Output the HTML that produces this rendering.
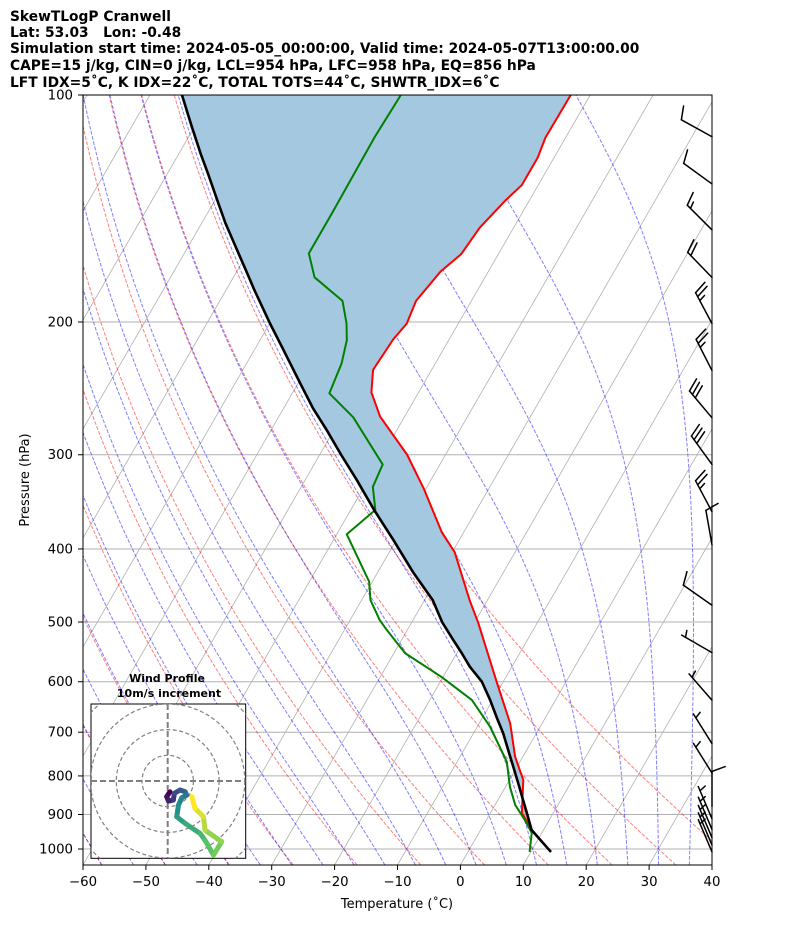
<!DOCTYPE html>
<html><head><meta charset="utf-8"><style>
html,body{margin:0;padding:0;background:#fff;}
svg{display:block;font-family:"DejaVu Sans","Liberation Sans",sans-serif;}
</style></head><body>
<svg id="chart" width="794" height="937" viewBox="0 0 794 937" xmlns="http://www.w3.org/2000/svg">
<defs>
<clipPath id="plotclip"><rect x="83" y="95" width="629" height="770"/></clipPath>
<clipPath id="hodoclip"><rect x="91" y="704" width="154.7" height="154.3"/></clipPath>
</defs>
<g font-weight="bold" font-size="13.8" fill="#000">
<text x="10" y="21">SkewTLogP Cranwell</text>
<text x="10" y="37" xml:space="preserve">Lat: 53.03   Lon: -0.48</text>
<text x="10" y="53">Simulation start time: 2024-05-05_00:00:00, Valid time: 2024-05-07T13:00:00.00</text>
<text x="10" y="70">CAPE=15 j/kg, CIN=0 j/kg, LCL=954 hPa, LFC=958 hPa, EQ=856 hPa</text>
<text x="10" y="87">LFT IDX=5˚C, K IDX=22˚C, TOTAL TOTS=44˚C, SHWTR_IDX=6˚C</text>
</g>
<g id="plot" clip-path="url(#plotclip)"></g>
<g id="barbs"></g>
<rect x="83" y="95" width="629" height="770" fill="none" stroke="#000" stroke-width="1"/>
<g id="axes"></g>
<text x="0" y="0" font-size="13" text-anchor="middle" transform="translate(29,480) rotate(-90)">Pressure (hPa)</text>
<text x="397" y="908" font-size="13" text-anchor="middle">Temperature (˚C)</text>
<g id="hodo">
<text x="167" y="682" font-size="11" font-weight="bold" text-anchor="middle">Wind Profile</text>
<text x="169" y="697" font-size="11" font-weight="bold" text-anchor="middle">10m/s increment</text>
<rect x="91" y="704" width="154.7" height="154.3" fill="#fff" stroke="#000" stroke-width="1"/>
<g id="hodoinner" clip-path="url(#hodoclip)"></g>
</g>
</svg>
<script>
// ---- data ----
const tempP = [1009,944,896,810,755,681,602,501,468,404,380,333,300,267,248,231.5,211,201,187.5,171.5,162.5,150,138,131.6,121,114,100];
const tempT = [13.2,8.2,5.0,2.2,-1.2,-5.1,-10.9,-19.4,-22.8,-29.6,-33.5,-40.3,-46.1,-53.9,-57.5,-59.3,-58.9,-58.2,-58.8,-57.6,-55.9,-55.4,-53.8,-52.6,-52.6,-53.2,-53.1];
const dewP = [1009,952,915,874,827,766,688,634.5,591,550,512,497,467.6,442,382.5,355,331,309,267.6,248.7,227,211.4,200.8,187.5,174.5,162.2,143.4,113.6,100];
const dewT = [9.8,8.4,6.1,3.2,0.7,-2.1,-8.0,-13.3,-20.3,-28.2,-33.3,-35.3,-38.6,-40.5,-48.4,-46.1,-48.6,-49.1,-58.1,-64.1,-64.9,-66.2,-67.8,-70.5,-77.1,-80.2,-80.2,-80.4,-80.1];
const parcelP = [1009,943.5,900,861,820,778,740,702,670,634.5,600,573,550,528,500,467.6,430,389,355,324,300,278,260,241,216.6,200,181.4,170,160,148,140,127,120,110,100];
const parcelT = [13.2,8.1,6.0,4.0,1.8,-0.6,-2.9,-5.3,-7.7,-10.4,-13.4,-16.7,-19.2,-21.8,-25.2,-28.7,-34.3,-40.5,-46.3,-51.8,-56.6,-61.2,-65.4,-69.7,-75.7,-80.2,-85.5,-88.9,-92.1,-96.2,-98.9,-103.6,-106.4,-110.5,-114.9];
const barbP = [113.6,131.2,151,174.6,201,232,268,309,357,395,475,549,635,725,793,878,912,942,966,988,1009];
const barbSpd = [10,10,15,20,25,25,30,30,25,10,10,5,5,5,5,10,5,5,5,5,5];
const barbDir = [299,306,315,316,332,333,320,324,332,350,305,300,319,328,328,0,337,337,337,337,337];
const hodoU = [0.9,-0.4,0.3,2.2,2.6,4.8,6.8,7.4,5.5,4.2,3.5,6.8,12.6,14.5,17.8,21,14.5,13.9,10.6,9.4];
const hodoV = [-4.2,-6.1,-7.8,-7.4,-4.8,-3.5,-4.2,-5.5,-6.5,-9.4,-13.9,-16.5,-20.4,-23,-28.8,-23.6,-19.1,-13.9,-10.6,-6.1];
const pTicks = [100,200,300,400,500,600,700,800,900,1000];
const tTicks = [-60,-50,-40,-30,-20,-10,0,10,20,30,40];

// ---- axis functions ----
const X0=83, X1=712, Y0=95, Y1=865, PX=6.29, SK=0.577;
function yOf(p){return Y0+754*Math.log10(p/100);}
function xOf(T,p){return X0+(T+60)*PX+SK*(Y1-yOf(p));}
const NS="http://www.w3.org/2000/svg";
function mk(tag,attrs,parent){const e=document.createElementNS(NS,tag);for(const k in attrs)e.setAttribute(k,attrs[k]);parent.appendChild(e);return e;}
const plot=document.getElementById('plot'), axes=document.getElementById('axes'), barbsG=document.getElementById('barbs');
function ptsStr(ps,ts){return ps.map((p,i)=>xOf(ts[i],p).toFixed(2)+','+yOf(p).toFixed(2)).join(' ');}

pTicks.forEach(p=>{
  const l=mk('line',{x1:X0,x2:X1,y1:yOf(p),y2:yOf(p),stroke:'#b0b0b0','stroke-width':1},plot);
  
  
});
for(let T=-160;T<=40;T+=10){
  const l=mk('line',{x1:xOf(T,1050),y1:yOf(1050),x2:xOf(T,100),y2:yOf(100),stroke:'#b0b0b0','stroke-width':0.8},plot);
  
  
}
for(let T0=-60;T0<=40;T0+=10){
  const ps=[],ts=[];
  for(let p=1050;p>=100;p-=10){ps.push(p);ts.push((T0+273.15)*Math.pow(p/1000,0.2857)-273.15);}
  const l=mk('polyline',{points:ptsStr(ps,ts),fill:'none',stroke:'#ff0000','stroke-opacity':0.5,'stroke-width':1,'stroke-dasharray':'3.7,1.6'},plot);
  
  
}
function dTdp(p,T){const Rd=287.04,Cp=1005.7,Lv=2.501e6,eps=0.622;
  const es=6.112*Math.exp(17.67*(T-273.15)/(T-29.65));const rs=eps*es/(p-es);
  return ((Rd*T+Lv*rs)/p)/(Cp+Lv*Lv*rs*eps/(Rd*T*T));}
function moist(T0,pEnd,step){let T=T0+273.15,p=1000;const ps=[p],ts=[T0];
  while((step<0&&p>pEnd)||(step>0&&p<pEnd)){const h=step;
    const k1=dTdp(p,T),k2=dTdp(p+h/2,T+h/2*k1),k3=dTdp(p+h/2,T+h/2*k2),k4=dTdp(p+h,T+h*k3);
    T+=h/6*(k1+2*k2+2*k3+k4);p+=h;ps.push(p);ts.push(T-273.15);}
  return [ps,ts];}
for(let T0=-60;T0<=40;T0+=5){
  const [pu,tu]=moist(T0,100,-5),[pd,td]=moist(T0,1050,5);
  const ps=pd.slice().reverse().concat(pu.slice(1)),ts=td.slice().reverse().concat(tu.slice(1));
  const l=mk('polyline',{points:ptsStr(ps,ts),fill:'none',stroke:'#0000ff','stroke-opacity':0.5,'stroke-width':1,'stroke-dasharray':'3.7,1.6'},plot);
  
  
}
function interp(P,T,p){
  if(p>=P[0])return T[0];
  for(let i=0;i<P.length-1;i++){if(p<=P[i]&&p>=P[i+1]){const f=(Math.log(P[i])-Math.log(p))/(Math.log(P[i])-Math.log(P[i+1]));return T[i]+f*(T[i+1]-T[i]);}}
  return T[T.length-1];}
{
  const grid=[];const pa=Math.min(tempP[0],parcelP[0]);
  for(let i=0;i<=400;i++)grid.push(pa*Math.pow(100/pa,i/400));
  const e=grid.map(p=>interp(tempP,tempT,p)), q=grid.map(p=>interp(parcelP,parcelT,p));
  const up=grid.map((p,i)=>xOf(Math.max(e[i],q[i]),p)+','+yOf(p));
  const dn=grid.map((p,i)=>xOf(q[i],p)+','+yOf(p)).reverse();
  const cin=mk('polygon',{points:up.concat(dn).join(' '),fill:'rgb(165,200,225)',stroke:'none'},plot);
  
  
  const dn2=grid.map((p,i)=>xOf(e[i],p)+','+yOf(p)).reverse();
  const cape=mk('polygon',{points:up.concat(dn2).join(' '),fill:'rgba(214,39,40,0.4)',stroke:'none'},plot);
  
  
}
const tl=mk('polyline',{points:ptsStr(tempP,tempT),fill:'none',stroke:'#ff0000','stroke-width':2,'stroke-linejoin':'round'},plot);


const dl=mk('polyline',{points:ptsStr(dewP,dewT),fill:'none',stroke:'#008000','stroke-width':2,'stroke-linejoin':'round'},plot);


const pl=mk('polyline',{points:ptsStr(parcelP,parcelT),fill:'none',stroke:'#000','stroke-width':2.6,'stroke-linejoin':'round'},plot);



pTicks.forEach(p=>{
  const y=yOf(p);
  mk('line',{x1:X0-5,x2:X0,y1:y,y2:y,stroke:'#000','stroke-width':1},axes);
  const t=mk('text',{x:73,y:y+4.5,'font-size':13.3,'text-anchor':'end'},axes);
  
  
  t.textContent=p;
});
tTicks.forEach(T=>{
  const x=X0+(T+60)*PX;
  mk('line',{x1:x,x2:x,y1:Y1,y2:Y1+5,stroke:'#000','stroke-width':1},axes);
  const t=mk('text',{x:x,y:886,'font-size':13.3,'text-anchor':'middle'},axes);
  
  
  t.textContent=String(T).replace('-','\u2212');
});

barbP.forEach((p,i)=>{
  const bx=X1, by=yOf(p), L=35;
  const th=barbDir[i]*Math.PI/180;
  const ux=Math.sin(th), uy=-Math.cos(th);
  const nx=-uy, ny=ux;
  const g=mk('g',{stroke:'#000','stroke-width':1.5,fill:'none','stroke-linecap':'round'},barbsG);
  
  
  const tx=bx+ux*L, ty=by+uy*L;
  mk('line',{x1:bx,y1:by,x2:tx,y2:ty},g);
  let spd=barbSpd[i]; let pos=0;
  const ca=Math.cos(70*Math.PI/180), sa=Math.sin(70*Math.PI/180);
  const bdx=ca*ux+sa*nx, bdy=ca*uy+sa*ny;
  let full=Math.floor(spd/10), half=(spd%10)>=5?1:0;
  for(let k=0;k<full;k++){const sx=tx-ux*pos, sy=ty-uy*pos;mk('line',{x1:sx,y1:sy,x2:sx+bdx*14,y2:sy+bdy*14},g);pos+=4.5;}
  if(half){if(full===0)pos=4.5;const sx=tx-ux*pos, sy=ty-uy*pos;mk('line',{x1:sx,y1:sy,x2:sx+bdx*7,y2:sy+bdy*7},g);}
});

const hi=document.getElementById('hodoinner');
const HCX=167.7, HCY=781, HS=2.57;
[10,20,30,40].forEach(r=>{
  const c=mk('circle',{cx:HCX,cy:HCY,r:r*HS,fill:'none',stroke:'#808080','stroke-width':1.2,'stroke-dasharray':'4,2.5'},hi);
  
  
});
mk('line',{x1:91,x2:246,y1:HCY,y2:HCY,stroke:'#808080','stroke-width':2,'stroke-dasharray':'6,3'},hi);
mk('line',{x1:HCX,x2:HCX,y1:704,y2:859,stroke:'#808080','stroke-width':2,'stroke-dasharray':'6,3'},hi);
const vir=[[68,1,84],[59,82,139],[33,145,140],[94,201,98],[253,231,37]];
function vcol(t){const s=t*(vir.length-1);const i=Math.min(Math.floor(s),vir.length-2);const f=s-i;
  const c=vir[i].map((v,k)=>Math.round(v+f*(vir[i+1][k]-v)));return 'rgb('+c.join(',')+')';}
for(let i=0;i<hodoU.length-1;i++){
  const s=mk('line',{x1:HCX+hodoU[i]*HS,y1:HCY-hodoV[i]*HS,x2:HCX+hodoU[i+1]*HS,y2:HCY-hodoV[i+1]*HS,stroke:vcol(i/(hodoU.length-2)),'stroke-width':5,'stroke-linecap':'round'},hi);
  
  
}
</script>
</body></html>
